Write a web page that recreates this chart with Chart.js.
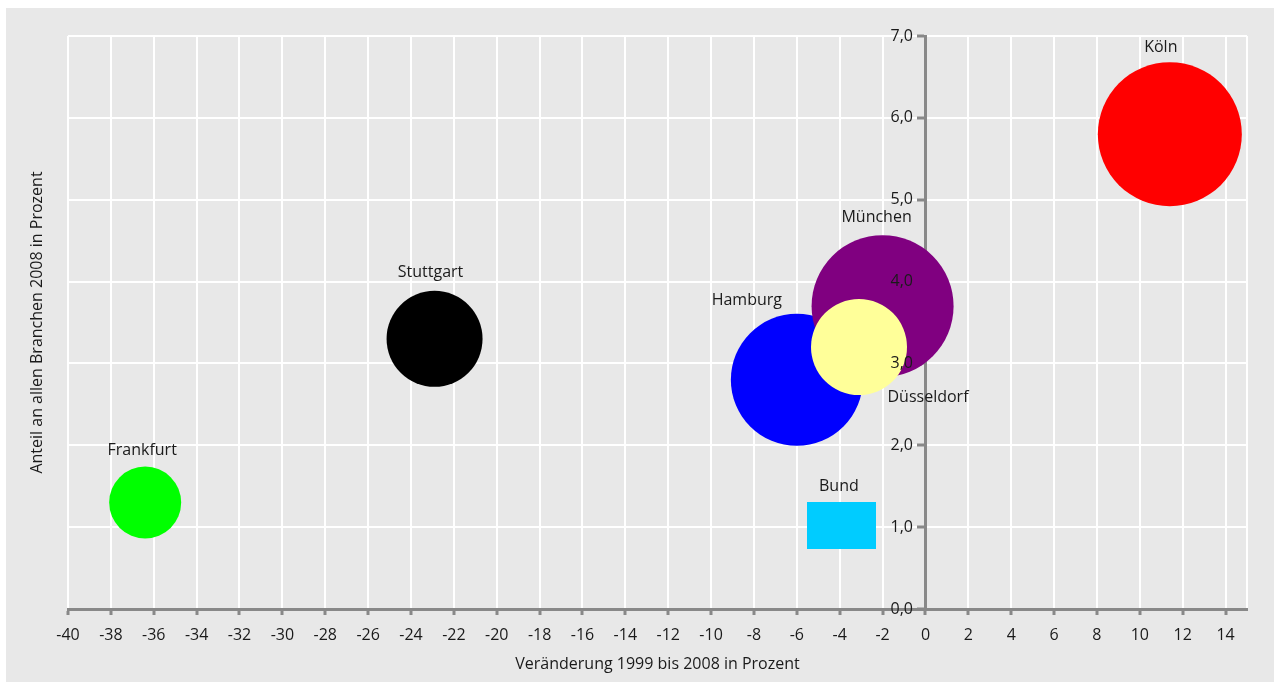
<!DOCTYPE html>
<html lang="de">
<head>
<meta charset="utf-8">
<title>Veränderung und Anteil 1999 bis 2008</title>
<script src="https://cdn.jsdelivr.net/npm/chart.js@4.4.0/dist/chart.umd.min.js"></script>
<style>
  html, body { margin: 0; padding: 0; background: #fff; }
  #rahmen { position: absolute; left: 6px; top: 8px; width: 1268px; height: 674px; background: #e8e8e8; }
  canvas { display: block; }
</style>
</head>
<body>
<div id="rahmen"><canvas id="grafico" width="1268" height="674"></canvas></div>
<script>
// Staedte mit Veraenderung (x), Anteil (y) und Blasengroesse
const staedte = ['Frankfurt', 'Stuttgart', 'Hamburg', 'München', 'Düsseldorf', 'Köln', 'Bund'];
const veraenderung = [-36.4, -22.9, -6.0, -2.0, -3.1, 11.4, -3.9];
const anteil = [1.3, 3.3, 2.8, 3.7, 3.2, 5.8, 1.02];
const blasengroesse = [36, 48, 66, 71, 48, 72, 24];
const farben = ['#00ff00', '#000000', '#0000ff', '#800080', '#ffff99', '#ff0000', '#00ccff'];

const xTicks = [-40, -38, -36, -34, -32, -30, -28, -26, -24, -22, -20, -18, -16, -14, -12, -10,
  -8, -6, -4, -2, 0, 2, 4, 6, 8, 10, 12, 14, 15];
const yTicks = [0, 1, 2, 3, 4, 5, 6, 7];

const xTitel = 'Veränderung 1999 bis 2008 in Prozent';
const yTitel = 'Anteil an allen Branchen 2008 in Prozent';

// Lage der Namen relativ zur Blasenmitte
const namenVersatz = [[-3, -52], [-4, -66], [-50, -79], [-6, -89], [69, 50], [-9, -87], [-3, -39]];

const schrift = '"Open Sans", sans-serif';
const textFarbe = '#1a1a1a';
const achsenGrau = '#888888';

Chart.defaults.font.family = schrift;
Chart.defaults.font.size = 16;
Chart.defaults.color = textFarbe;

// Bund wird als Rechteck gezeichnet
const bundKasten = document.createElement('canvas');
bundKasten.width = 69;
bundKasten.height = 47;
(function () {
  const c = bundKasten.getContext('2d');
  c.fillStyle = farben[6];
  c.fillRect(0, 0, bundKasten.width, bundKasten.height);
})();

function constroiPontos() {
  return staedte.map((s, i) => ({ x: veraenderung[i], y: anteil[i], r: blasengroesse[i] }));
}

const beschriftung = {
  id: 'beschriftung',
  afterDatasetsDraw(chart) {
    const ctx = chart.ctx;
    const punkte = chart.getDatasetMeta(0).data;
    ctx.save();
    ctx.font = '16px ' + schrift;
    ctx.fillStyle = textFarbe;
    ctx.textAlign = 'center';
    ctx.textBaseline = 'middle';
    punkte.forEach((p, i) => {
      ctx.fillText(staedte[i], p.x + namenVersatz[i][0], p.y + namenVersatz[i][1]);
    });

    const area = chart.chartArea;
    ctx.fillText(xTitel, (area.left + area.right) / 2, 656);
    ctx.translate(31, (area.top + area.bottom) / 2);
    ctx.rotate(-Math.PI / 2);
    ctx.fillText(yTitel, 0, 0);
    ctx.restore();
  }
};

const ctx = document.getElementById('grafico');

new Chart(ctx, {
  type: 'bubble',
  data: {
    datasets: [{
      label: 'Städte',
      data: constroiPontos(),
      backgroundColor: farben,
      borderWidth: 0,
      pointStyle: staedte.map((s, i) => s === 'Bund' ? bundKasten : 'circle')
    }]
  },
  options: {
    responsive: false,
    animation: false,
    events: [],
    layout: { autoPadding: false, padding: { left: 62, top: 28, right: 27, bottom: 33 } },
    plugins: {
      legend: { display: false },
      tooltip: { enabled: false }
    },
    scales: {
      x: {
        type: 'linear',
        position: 'bottom',
        min: -40,
        max: 15,
        afterBuildTicks: (scale) => { scale.ticks = xTicks.map(v => ({ value: v })); },
        afterFit: (scale) => { scale.height = 40; },
        grid: {
          color: '#ffffff',
          lineWidth: 2,
          tickLength: 6,
          tickWidth: 3,
          tickColor: (c) => c.tick && c.tick.value === 15 ? 'rgba(0,0,0,0)' : achsenGrau
        },
        border: { color: achsenGrau, width: 3 },
        ticks: {
          padding: 11,
          maxRotation: 0,
          autoSkip: false,
          callback: (v) => v === 15 ? '' : String(v)
        }
      },
      y: {
        type: 'linear',
        position: { x: 0 },
        min: 0,
        max: 7,
        afterBuildTicks: (scale) => { scale.ticks = yTicks.map(v => ({ value: v })); },
        afterFit: (scale) => { scale.width = 0; },
        grid: {
          color: '#ffffff',
          lineWidth: 2,
          tickLength: 7,
          tickWidth: 3,
          tickColor: achsenGrau
        },
        border: { color: achsenGrau, width: 3, z: 0 },
        ticks: {
          z: 1,
          padding: 7,
          // Abstand zur Achse ueber angehaengte Leerzeichen
          callback: (v) => v.toFixed(1).replace('.', ',') + '\u00a0\u00a0\u00a0'
        }
      }
    }
  },
  plugins: [beschriftung]
});
</script>
</body>
</html>
